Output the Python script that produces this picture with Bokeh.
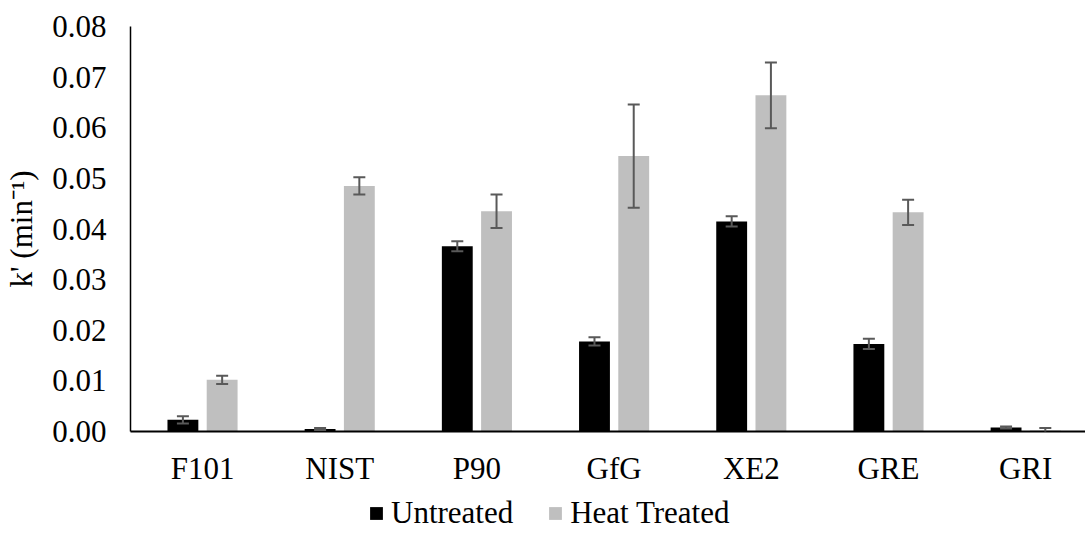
from bokeh.plotting import figure
from bokeh.layouts import column
from bokeh.models import (ColumnDataSource, Range1d, FixedTicker, NumeralTickFormatter,
                          Whisker, TeeHead, Legend, LegendItem)
from bokeh.transform import dodge
from bokeh.embed import file_html
from bokeh.resources import INLINE

# Rate constants k' (min^-1) per sample, with standard deviations
categories = ["F101", "NIST", "P90", "GfG", "XE2", "GRE", "GRI"]
untreated = [0.0023, 0.0005, 0.0366, 0.0178, 0.0415, 0.0173, 0.0008]
untreated_err = [0.0007, 0.0002, 0.0010, 0.0008, 0.0010, 0.0010, 0.0002]
heat_treated = [0.0102, 0.0485, 0.0435, 0.0544, 0.0664, 0.0433, 0.0002]
heat_treated_err = [0.0008, 0.0017, 0.0033, 0.0102, 0.0065, 0.0025, 0.0005]
y_ticks = [0.00, 0.01, 0.02, 0.03, 0.04, 0.05, 0.06, 0.07, 0.08]
series_names = ["Untreated", "Heat Treated"]
series_colors = ["#000000", "#BFBFBF"]

FONT = "Liberation Serif"
FONT_SIZE = "31px"
OFFSET = 0.143
BAR_W = 0.225

pos = list(range(len(categories)))
src = ColumnDataSource(dict(
    x=pos,
    u=untreated,
    u_lo=[v - e for v, e in zip(untreated, untreated_err)],
    u_hi=[v + e for v, e in zip(untreated, untreated_err)],
    h=heat_treated,
    h_lo=[v - e for v, e in zip(heat_treated, heat_treated_err)],
    h_hi=[v + e for v, e in zip(heat_treated, heat_treated_err)],
))

p = figure(width=1085, height=490, output_backend="svg", toolbar_location=None,
           x_range=Range1d(-0.525, 6.436), y_range=Range1d(0, 0.08),
           min_border_left=130, min_border_right=0, min_border_top=26,
           min_border_bottom=59)
p.outline_line_color = None
p.grid.visible = False
p.background_fill_color = "white"
p.border_fill_color = "white"

p.vbar(x=dodge("x", -OFFSET), top="u", width=BAR_W, source=src,
       fill_color=series_colors[0], line_color=None)
p.vbar(x=dodge("x", OFFSET), top="h", width=BAR_W, source=src,
       fill_color=series_colors[1], line_color=None)

# error bars drawn above the bars
for xcol, lo, hi in ((dodge("x", -OFFSET), "u_lo", "u_hi"), (dodge("x", OFFSET), "h_lo", "h_hi")):
    w = Whisker(base=xcol, lower=lo, upper=hi, source=src, level="annotation",
                line_color="#595959", line_width=2,
                upper_head=TeeHead(size=12, line_color="#595959", line_width=2),
                lower_head=TeeHead(size=12, line_color="#595959", line_width=2))
    p.add_layout(w)

# x axis: sample names
xa = p.xaxis[0]
xa.ticker = FixedTicker(ticks=pos)
xa.major_label_overrides = {i: c for i, c in enumerate(categories)}
xa.major_tick_line_color = None
xa.minor_tick_line_color = None
xa.major_tick_out = 0
xa.major_label_standoff = 19
xa.major_label_text_font = FONT
xa.major_label_text_font_size = FONT_SIZE
xa.major_label_text_color = "black"
xa.axis_line_color = "black"
xa.axis_line_width = 2

# y axis: rate constant
ya = p.yaxis[0]
ya.ticker = FixedTicker(ticks=y_ticks)
ya.formatter = NumeralTickFormatter(format="0.00")
ya.major_tick_line_color = None
ya.minor_tick_line_color = None
ya.major_tick_out = 0
ya.major_label_standoff = 24
ya.major_label_text_font = FONT
ya.major_label_text_font_size = FONT_SIZE
ya.major_label_text_color = "black"
ya.axis_line_color = "black"
ya.axis_line_width = 1.5
ya.axis_label = "k' (min\u207b\u00b9)"
ya.axis_label_text_font = FONT
ya.axis_label_text_font_size = FONT_SIZE
ya.axis_label_text_font_style = "normal"
ya.axis_label_text_color = "black"
ya.axis_label_standoff = 10

# legend strip under the chart (its frame lines up with the chart frame)
q = figure(width=1085, height=51, output_backend="svg", toolbar_location=None,
           x_range=Range1d(0, 1), y_range=Range1d(0, 1),
           x_axis_type=None, y_axis_type=None,
           min_border_left=0, min_border_right=0, min_border_top=0, min_border_bottom=0)
q.outline_line_color = None
q.grid.visible = False
items = []
for name, color in zip(series_names, series_colors):
    # swatch renderers kept off-screen; only their legend glyphs show
    r = q.vbar(x=[5], top=[5], bottom=[4], width=0.1, fill_color=color, line_color=None)
    items.append(LegendItem(label=name, renderers=[r]))
legend = Legend(items=items, orientation="horizontal", location=(238, 10),
                glyph_width=16, glyph_height=16, label_standoff=7, spacing=34,
                padding=0, margin=0, border_line_color=None,
                background_fill_alpha=0,
                label_text_font=FONT, label_text_font_size=FONT_SIZE,
                label_text_color="black")
q.add_layout(legend, "center")

open("out.html", "w").write(file_html(column(p, q, spacing=0), INLINE))
